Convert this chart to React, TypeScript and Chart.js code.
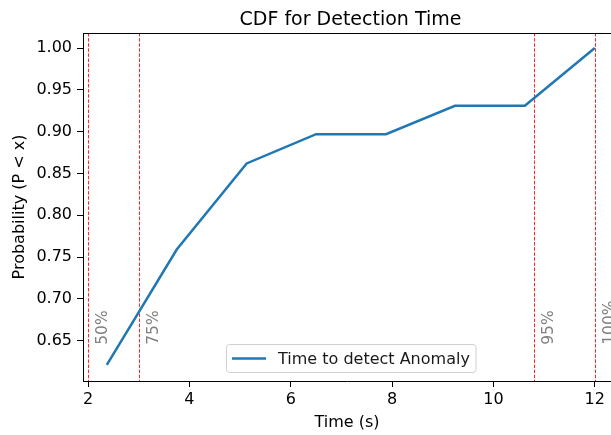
import React, { useEffect, useRef } from "react";
import { Chart, registerables } from "chart.js";

Chart.register(...registerables);

const timeValues = [2.37, 3.75, 5.13, 6.5, 7.88, 9.24, 10.62, 12.0];
const cdfValues = [0.621, 0.759, 0.862, 0.897, 0.897, 0.931, 0.931, 1.0];
const quantileTimes = [2.0, 3.0, 10.8, 12.0];
const quantileLabels = ["50%", "75%", "95%", "100%"];
const quantileLabelY = 0.645;
const xTicks = [2, 4, 6, 8, 10, 12];
const yTicks = [0.65, 0.7, 0.75, 0.8, 0.85, 0.9, 0.95, 1.0];
const seriesName = "Time to detect Anomaly";
const chartTitle = "CDF for Detection Time";

const FONT = "'DejaVu Sans', sans-serif";

export default function App() {
  const ref = useRef<HTMLCanvasElement>(null);
  useEffect(() => {
    if (!ref.current) return;
    const overlay = {
      id: "overlay",
      beforeDatasetsDraw(chart: any) {
        const { ctx, chartArea, scales } = chart;
        const x = scales.x;
        const y = scales.y;
        ctx.save();
        ctx.beginPath();
        ctx.rect(chartArea.left, chartArea.top, chartArea.right - chartArea.left, chartArea.bottom - chartArea.top);
        ctx.clip();
        ctx.strokeStyle = "rgba(255,0,0,0.85)";
        ctx.lineWidth = 1;
        ctx.setLineDash([3.5, 1.6]);
        quantileTimes.forEach((q) => {
          const px = Math.round(x.getPixelForValue(q)) + 0.5;
          ctx.beginPath();
          ctx.moveTo(px, chartArea.top);
          ctx.lineTo(px, chartArea.bottom);
          ctx.stroke();
        });
        ctx.setLineDash([]);
        ctx.fillStyle = "#808080";
        ctx.font = `15.5px ${FONT}`;
        ctx.textBaseline = "alphabetic";
        ctx.textAlign = "left";
        quantileTimes.forEach((q, i) => {
          const px = x.getPixelForValue(q) + 19;
          const py = y.getPixelForValue(quantileLabelY);
          ctx.save();
          ctx.translate(px, py);
          ctx.rotate(-Math.PI / 2);
          ctx.fillText(quantileLabels[i], 0, 0);
          ctx.restore();
        });
        ctx.restore();
      },
      afterDraw(chart: any) {
        const { ctx, chartArea } = chart;
        ctx.save();
        // top border
        ctx.strokeStyle = "#000";
        ctx.lineWidth = 1;
        ctx.beginPath();
        ctx.moveTo(chartArea.left, chartArea.top + 0.5);
        ctx.lineTo(chartArea.right, chartArea.top + 0.5);
        ctx.stroke();
        // title
        ctx.fillStyle = "#000";
        ctx.font = `19px ${FONT}`;
        ctx.textAlign = "center";
        ctx.textBaseline = "alphabetic";
        ctx.fillText(chartTitle, 350.5, 25);
        // legend
        const bx = 226.5, by = 344.5, bw = 249.5, bh = 28;
        ctx.fillStyle = "rgba(255,255,255,0.8)";
        ctx.strokeStyle = "#d0d0d0";
        ctx.lineWidth = 1;
        ctx.beginPath();
        (ctx as any).roundRect(bx, by, bw, bh, 3);
        ctx.fill();
        ctx.stroke();
        ctx.strokeStyle = "#1f77b4";
        ctx.lineWidth = 2.5;
        ctx.beginPath();
        ctx.moveTo(232, by + bh / 2);
        ctx.lineTo(266, by + bh / 2);
        ctx.stroke();
        ctx.fillStyle = "#1a1a1a";
        ctx.font = `16px ${FONT}`;
        ctx.textAlign = "left";
        ctx.textBaseline = "middle";
        ctx.fillText(seriesName, 278, by + bh / 2 + 1);
        ctx.restore();
      },
    };
    const chart = new Chart(ref.current, {
      type: "line",
      data: {
        datasets: [
          {
            label: seriesName,
            data: timeValues.map((t, i) => ({ x: t, y: cdfValues[i] })),
            borderColor: "#1f77b4",
            borderWidth: 2.5,
            pointRadius: 0,
            fill: false,
            tension: 0,
          },
        ],
      },
      options: {
        animation: false,
        responsive: false,
        maintainAspectRatio: false,
        layout: { padding: { top: 33, right: 0, left: 0, bottom: 0 } },
        plugins: { legend: { display: false }, title: { display: false }, tooltip: { enabled: false } },
        scales: {
          x: {
            type: "linear",
            min: 1.9,
            max: 12.32,
            afterBuildTicks: (s: any) => {
              s.ticks = xTicks.map((v) => ({ value: v }));
            },
            afterFit: (s: any) => {
              s.height = 54;
            },
            ticks: { color: "#000", font: { family: FONT, size: 16 }, padding: 3, maxRotation: 0, autoSkip: false },
            grid: { drawOnChartArea: false, drawTicks: true, tickLength: 6, tickColor: "#000", tickWidth: 1 },
            border: { color: "#000", width: 1 },
            title: { display: true, text: "Time (s)", color: "#000", font: { family: FONT, size: 16 }, padding: { top: 3, bottom: 3 } },
          },
          y: {
            type: "linear",
            min: 0.6017,
            max: 1.018,
            afterBuildTicks: (s: any) => {
              s.ticks = yTicks.map((v) => ({ value: v }));
            },
            afterFit: (s: any) => {
              s.width = 83;
            },
            ticks: {
              color: "#000",
              font: { family: FONT, size: 16 },
              padding: 5,
              callback: (v: any) => Number(v).toFixed(2),
            },
            grid: { drawOnChartArea: false, drawTicks: true, tickLength: 6, tickColor: "#000", tickWidth: 1 },
            border: { color: "#000", width: 1 },
            title: { display: true, text: "Probability (P < x)", color: "#000", font: { family: FONT, size: 16 }, padding: { top: 10, bottom: 0 } },
          },
        },
      },
      plugins: [overlay],
    });
    return () => chart.destroy();
  }, []);
  return (
    <div style={{ position: "fixed", left: 0, top: 0, width: 611, height: 435, background: "#fff" }}>
      <canvas ref={ref} width={611} height={435} />
    </div>
  );
}
